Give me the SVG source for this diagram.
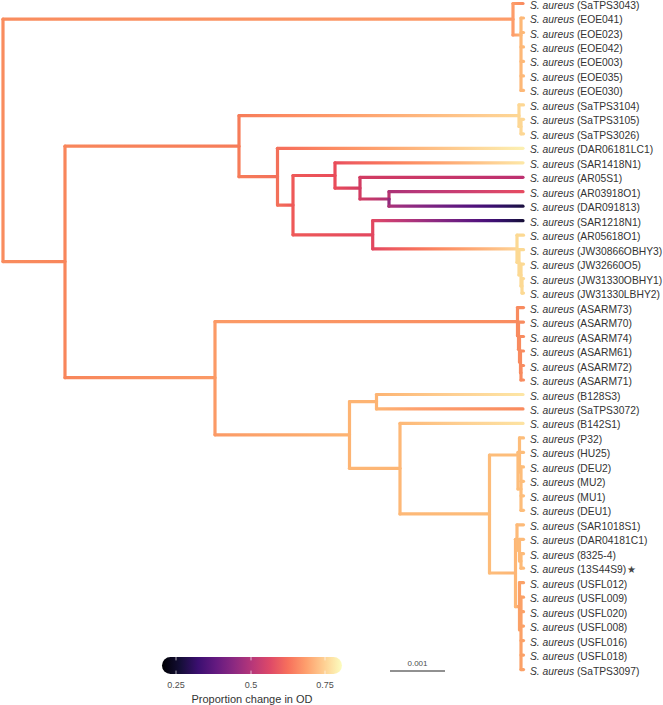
<svg xmlns="http://www.w3.org/2000/svg" width="663" height="705" viewBox="0 0 663 705">
<style>
.e{fill:none;stroke-width:3.2;stroke-linecap:round}
.lab{font-family:"Liberation Sans",Arial,sans-serif;font-size:10.3px;fill:#333}
.it{font-style:italic}
.tk{font-family:"Liberation Sans",Arial,sans-serif;font-size:9px;fill:#4d4d4d;text-anchor:middle}
.ttl{font-family:"Liberation Sans",Arial,sans-serif;font-size:11px;fill:#333;text-anchor:middle}
.sc{font-family:"Liberation Sans",Arial,sans-serif;font-size:8px;fill:#4d4d4d;text-anchor:middle}
</style>
<defs>
<linearGradient id="g_ra" gradientUnits="userSpaceOnUse" x1="3" y1="0" x2="513" y2="0"><stop offset="0" stop-color="#F98C5E"/><stop offset="1" stop-color="#FD9C69"/></linearGradient>
<linearGradient id="g_a3043" gradientUnits="userSpaceOnUse" x1="513" y1="0" x2="523" y2="0"><stop offset="0" stop-color="#FD9C69"/><stop offset="1" stop-color="#F98A5E"/></linearGradient>
<linearGradient id="g_aeoe" gradientUnits="userSpaceOnUse" x1="513" y1="0" x2="521" y2="0"><stop offset="0" stop-color="#FD9C69"/><stop offset="1" stop-color="#FDB575"/></linearGradient>
<linearGradient id="g_rb" gradientUnits="userSpaceOnUse" x1="3" y1="0" x2="65" y2="0"><stop offset="0" stop-color="#F98C5E"/><stop offset="1" stop-color="#F8865B"/></linearGradient>
<linearGradient id="g_bc" gradientUnits="userSpaceOnUse" x1="65" y1="0" x2="239" y2="0"><stop offset="0" stop-color="#F8865B"/><stop offset="1" stop-color="#F67C59"/></linearGradient>
<linearGradient id="g_cs" gradientUnits="userSpaceOnUse" x1="239" y1="0" x2="519" y2="0"><stop offset="0" stop-color="#F67C59"/><stop offset=".15" stop-color="#FC8961"/><stop offset=".4" stop-color="#FE9F6D"/><stop offset=".65" stop-color="#FEB77E"/><stop offset=".9" stop-color="#FECF92"/><stop offset="1" stop-color="#FDD794"/></linearGradient>
<linearGradient id="g_cd" gradientUnits="userSpaceOnUse" x1="239" y1="0" x2="277.5" y2="0"><stop offset="0" stop-color="#F67C59"/><stop offset="1" stop-color="#F3705A"/></linearGradient>
<linearGradient id="g_dl" gradientUnits="userSpaceOnUse" x1="277.5" y1="0" x2="523" y2="0"><stop offset="0" stop-color="#F3705A"/><stop offset=".036" stop-color="#F7705C"/><stop offset=".214" stop-color="#FC8961"/><stop offset=".393" stop-color="#FE9F6D"/><stop offset=".571" stop-color="#FEB77E"/><stop offset=".75" stop-color="#FECF92"/><stop offset=".929" stop-color="#FDE7A9"/><stop offset="1" stop-color="#FCF0B2"/></linearGradient>
<linearGradient id="g_de" gradientUnits="userSpaceOnUse" x1="277.5" y1="0" x2="293" y2="0"><stop offset="0" stop-color="#F3705A"/><stop offset="1" stop-color="#EE5958"/></linearGradient>
<linearGradient id="g_ef" gradientUnits="userSpaceOnUse" x1="293" y1="0" x2="335" y2="0"><stop offset="0" stop-color="#EE5958"/><stop offset="1" stop-color="#E94C5A"/></linearGradient>
<linearGradient id="g_fl" gradientUnits="userSpaceOnUse" x1="335" y1="0" x2="523" y2="0"><stop offset="0" stop-color="#E94C5A"/><stop offset=".0625" stop-color="#ED5A5F"/><stop offset=".219" stop-color="#F7705C"/><stop offset=".375" stop-color="#FC8961"/><stop offset=".53" stop-color="#FE9F6D"/><stop offset=".69" stop-color="#FEB77E"/><stop offset=".84" stop-color="#FECF92"/><stop offset="1" stop-color="#FDE7A6"/></linearGradient>
<linearGradient id="g_fg2" gradientUnits="userSpaceOnUse" x1="335" y1="0" x2="360" y2="0"><stop offset="0" stop-color="#E94C5A"/><stop offset="1" stop-color="#D23C62"/></linearGradient>
<linearGradient id="g_g2l" gradientUnits="userSpaceOnUse" x1="360" y1="0" x2="523" y2="0"><stop offset="0" stop-color="#D23C62"/><stop offset="1" stop-color="#BD3070"/></linearGradient>
<linearGradient id="g_g2j" gradientUnits="userSpaceOnUse" x1="360" y1="0" x2="389" y2="0"><stop offset="0" stop-color="#D23C62"/><stop offset="1" stop-color="#AC3276"/></linearGradient>
<linearGradient id="g_jl1" gradientUnits="userSpaceOnUse" x1="389" y1="0" x2="523" y2="0"><stop offset="0" stop-color="#AC3276"/><stop offset=".2" stop-color="#B73779"/><stop offset=".53" stop-color="#CA3E72"/><stop offset=".87" stop-color="#DE4968"/><stop offset="1" stop-color="#E64A60"/></linearGradient>
<linearGradient id="g_jl2" gradientUnits="userSpaceOnUse" x1="389" y1="0" x2="523" y2="0"><stop offset="0" stop-color="#AC3276"/><stop offset=".057" stop-color="#A1307E"/><stop offset=".2" stop-color="#8C2981"/><stop offset=".343" stop-color="#782281"/><stop offset=".486" stop-color="#641A80"/><stop offset=".629" stop-color="#51127C"/><stop offset=".771" stop-color="#3B0F70"/><stop offset=".914" stop-color="#251255"/><stop offset="1" stop-color="#1B1040"/></linearGradient>
<linearGradient id="g_eg" gradientUnits="userSpaceOnUse" x1="293" y1="0" x2="372.7" y2="0"><stop offset="0" stop-color="#EE5958"/><stop offset="1" stop-color="#E2475F"/></linearGradient>
<linearGradient id="g_gl1" gradientUnits="userSpaceOnUse" x1="372.7" y1="0" x2="523" y2="0"><stop offset="0" stop-color="#E2475F"/><stop offset=".02" stop-color="#DE4968"/><stop offset=".12" stop-color="#CA3E72"/><stop offset=".22" stop-color="#B73779"/><stop offset=".32" stop-color="#A1307E"/><stop offset=".42" stop-color="#8C2981"/><stop offset=".52" stop-color="#782281"/><stop offset=".62" stop-color="#641A80"/><stop offset=".72" stop-color="#51127C"/><stop offset=".82" stop-color="#3B0F70"/><stop offset=".92" stop-color="#251255"/><stop offset="1" stop-color="#170E38"/></linearGradient>
<linearGradient id="g_gjw" gradientUnits="userSpaceOnUse" x1="372.7" y1="0" x2="517" y2="0"><stop offset="0" stop-color="#E2475F"/><stop offset=".133" stop-color="#ED5A5F"/><stop offset=".3" stop-color="#F7705C"/><stop offset=".467" stop-color="#FC8961"/><stop offset=".633" stop-color="#FE9F6D"/><stop offset=".8" stop-color="#FEB77E"/><stop offset=".967" stop-color="#FECF92"/><stop offset="1" stop-color="#FDD494"/></linearGradient>
<linearGradient id="g_bh" gradientUnits="userSpaceOnUse" x1="65" y1="0" x2="215" y2="0"><stop offset="0" stop-color="#F8865B"/><stop offset="1" stop-color="#FB9A66"/></linearGradient>
<linearGradient id="g_has" gradientUnits="userSpaceOnUse" x1="215" y1="0" x2="517.5" y2="0"><stop offset="0" stop-color="#FB9A66"/><stop offset="1" stop-color="#F98C60"/></linearGradient>
<linearGradient id="g_hi" gradientUnits="userSpaceOnUse" x1="215" y1="0" x2="349.5" y2="0"><stop offset="0" stop-color="#FB9A66"/><stop offset="1" stop-color="#FDB473"/></linearGradient>
<linearGradient id="g_kl1" gradientUnits="userSpaceOnUse" x1="376.5" y1="0" x2="523" y2="0"><stop offset="0" stop-color="#FDB473"/><stop offset=".52" stop-color="#FECF92"/><stop offset="1" stop-color="#FDE6A5"/></linearGradient>
<linearGradient id="g_kl2" gradientUnits="userSpaceOnUse" x1="376.5" y1="0" x2="523" y2="0"><stop offset="0" stop-color="#FDB473"/><stop offset=".3" stop-color="#FE9F6D"/><stop offset="1" stop-color="#F98B5E"/></linearGradient>
<linearGradient id="g_ml" gradientUnits="userSpaceOnUse" x1="400" y1="0" x2="523" y2="0"><stop offset="0" stop-color="#FDB877"/><stop offset=".5" stop-color="#FECF92"/><stop offset="1" stop-color="#FDE3A2"/></linearGradient>
<linearGradient id="g_mn" gradientUnits="userSpaceOnUse" x1="400" y1="0" x2="489.5" y2="0"><stop offset="0" stop-color="#FDB877"/><stop offset="1" stop-color="#FDBC7A"/></linearGradient>
<linearGradient id="g_no" gradientUnits="userSpaceOnUse" x1="489.5" y1="0" x2="515.5" y2="0"><stop offset="0" stop-color="#FDBC7A"/><stop offset="1" stop-color="#FDB675"/></linearGradient>
<linearGradient id="g_ou" gradientUnits="userSpaceOnUse" x1="515.5" y1="0" x2="519.5" y2="0"><stop offset="0" stop-color="#FDB675"/><stop offset="1" stop-color="#FBA468"/></linearGradient>
<linearGradient id="g_bar" x1="0" y1="0" x2="1" y2="0"><stop offset="0" stop-color="#000004"/><stop offset=".1" stop-color="#140E36"/><stop offset=".2" stop-color="#3B0F70"/><stop offset=".3" stop-color="#641A80"/><stop offset=".4" stop-color="#8C2981"/><stop offset=".5" stop-color="#B73779"/><stop offset=".6" stop-color="#DE4968"/><stop offset=".7" stop-color="#F7705C"/><stop offset=".8" stop-color="#FE9F6D"/><stop offset=".9" stop-color="#FECF92"/><stop offset="1" stop-color="#FCFDBF"/></linearGradient>
</defs>
<rect width="663" height="705" fill="#fff"/>
<g id="branches">
<line class="e" x1="3" y1="19.2" x2="3" y2="261.6" stroke="#F98C5E"/>
<line class="e" x1="3" y1="19.2" x2="513" y2="19.2" stroke="url(#g_ra)"/>
<line class="e" x1="513" y1="3.5" x2="513" y2="35" stroke="#FD9C69"/>
<line class="e" x1="513" y1="3.5" x2="523" y2="3.5" stroke="url(#g_a3043)"/>
<line class="e" x1="513" y1="35" x2="521" y2="35" stroke="url(#g_aeoe)"/>
<g stroke="#FDB877">
<line class="e" x1="521" y1="18" x2="521" y2="90.4"/>
<line class="e" x1="521" y1="18" x2="523.5" y2="18"/>
<line class="e" x1="521" y1="32.5" x2="523.5" y2="32.5"/>
<line class="e" x1="521" y1="46.9" x2="523.5" y2="46.9"/>
<line class="e" x1="521" y1="61.4" x2="523.5" y2="61.4"/>
<line class="e" x1="521" y1="75.9" x2="523.5" y2="75.9"/>
<line class="e" x1="521" y1="90.4" x2="523.5" y2="90.4"/>
</g>
<line class="e" x1="3" y1="261.6" x2="65" y2="261.6" stroke="url(#g_rb)"/>
<line class="e" x1="65" y1="146.2" x2="65" y2="377.7" stroke="#F8865B"/>
<line class="e" x1="65" y1="146.2" x2="239" y2="146.2" stroke="url(#g_bc)"/>
<line class="e" x1="239" y1="115.7" x2="239" y2="176.7" stroke="#F67C59"/>
<line class="e" x1="239" y1="115.7" x2="519" y2="115.7" stroke="url(#g_cs)"/>
<g stroke="#FDD794">
<line class="e" x1="519" y1="104.9" x2="519" y2="126.5"/>
<line class="e" x1="519" y1="126.5" x2="521" y2="126.5"/>
<line class="e" x1="521" y1="119.3" x2="521" y2="133.8"/>
<line class="e" x1="519" y1="104.9" x2="523.5" y2="104.9"/>
<line class="e" x1="521" y1="119.3" x2="523.5" y2="119.3"/>
<line class="e" x1="521" y1="133.8" x2="523.5" y2="133.8"/>
</g>
<line class="e" x1="239" y1="176.7" x2="277.5" y2="176.7" stroke="url(#g_cd)"/>
<line class="e" x1="277.5" y1="148.3" x2="277.5" y2="205.1" stroke="#F3705A"/>
<line class="e" x1="277.5" y1="148.3" x2="523" y2="148.3" stroke="url(#g_dl)"/>
<line class="e" x1="277.5" y1="205.1" x2="293" y2="205.1" stroke="url(#g_de)"/>
<line class="e" x1="293" y1="175.5" x2="293" y2="234.8" stroke="#EE5958"/>
<line class="e" x1="293" y1="175.5" x2="335" y2="175.5" stroke="url(#g_ef)"/>
<line class="e" x1="335" y1="162.8" x2="335" y2="188.1" stroke="#E94C5A"/>
<line class="e" x1="335" y1="162.8" x2="523" y2="162.8" stroke="url(#g_fl)"/>
<line class="e" x1="335" y1="188.1" x2="360" y2="188.1" stroke="url(#g_fg2)"/>
<line class="e" x1="360" y1="177.3" x2="360" y2="199" stroke="#D23C62"/>
<line class="e" x1="360" y1="177.3" x2="523" y2="177.3" stroke="url(#g_g2l)"/>
<line class="e" x1="360" y1="199" x2="389" y2="199" stroke="url(#g_g2j)"/>
<line class="e" x1="389" y1="191.7" x2="389" y2="199" stroke="#B9356E"/>
<line class="e" x1="389" y1="199" x2="389" y2="206.2" stroke="#8F2A7C"/>
<line class="e" x1="389" y1="191.7" x2="523" y2="191.7" stroke="url(#g_jl1)"/>
<line class="e" x1="389" y1="206.2" x2="523" y2="206.2" stroke="url(#g_jl2)"/>
<line class="e" x1="293" y1="234.8" x2="372.7" y2="234.8" stroke="url(#g_eg)"/>
<line class="e" x1="372.7" y1="220.7" x2="372.7" y2="248.8" stroke="#E2475F"/>
<line class="e" x1="372.7" y1="220.7" x2="523" y2="220.7" stroke="url(#g_gl1)"/>
<line class="e" x1="372.7" y1="248.8" x2="517" y2="248.8" stroke="url(#g_gjw)"/>
<g stroke="#FCD993">
<line class="e" x1="517" y1="235.2" x2="517" y2="262.3"/>
<line class="e" x1="517" y1="262.3" x2="519" y2="262.3"/>
<line class="e" x1="519" y1="249.7" x2="519" y2="275"/>
<line class="e" x1="519" y1="275" x2="521" y2="275"/>
<line class="e" x1="521" y1="264.1" x2="521" y2="285.9"/>
<line class="e" x1="521" y1="285.9" x2="522" y2="285.9"/>
<line class="e" x1="522" y1="278.6" x2="522" y2="293.1"/>
<line class="e" x1="517" y1="235.2" x2="523.5" y2="235.2"/>
<line class="e" x1="519" y1="249.7" x2="523.5" y2="249.7"/>
<line class="e" x1="521" y1="264.1" x2="523.5" y2="264.1"/>
<line class="e" x1="522" y1="278.6" x2="523.5" y2="278.6"/>
<line class="e" x1="522" y1="293.1" x2="523.5" y2="293.1"/>
</g>
<line class="e" x1="65" y1="377.7" x2="215" y2="377.7" stroke="url(#g_bh)"/>
<line class="e" x1="215" y1="321.7" x2="215" y2="434.8" stroke="#FB9A66"/>
<line class="e" x1="215" y1="321.7" x2="517.5" y2="321.7" stroke="url(#g_has)"/>
<g stroke="#F88B5F">
<line class="e" x1="517.5" y1="307.6" x2="517.5" y2="335.7"/>
<line class="e" x1="517.5" y1="335.7" x2="518.5" y2="335.7"/>
<line class="e" x1="518.5" y1="322.1" x2="518.5" y2="349.2"/>
<line class="e" x1="518.5" y1="349.2" x2="519.5" y2="349.2"/>
<line class="e" x1="519.5" y1="336.5" x2="519.5" y2="361.9"/>
<line class="e" x1="519.5" y1="361.9" x2="520.5" y2="361.9"/>
<line class="e" x1="520.5" y1="351" x2="520.5" y2="372.8"/>
<line class="e" x1="520.5" y1="372.8" x2="521" y2="372.8"/>
<line class="e" x1="521" y1="365.5" x2="521" y2="380"/>
<line class="e" x1="517.5" y1="307.6" x2="523.5" y2="307.6"/>
<line class="e" x1="518.5" y1="322.1" x2="523.5" y2="322.1"/>
<line class="e" x1="519.5" y1="336.5" x2="523.5" y2="336.5"/>
<line class="e" x1="520.5" y1="351" x2="523.5" y2="351"/>
<line class="e" x1="521" y1="365.5" x2="523.5" y2="365.5"/>
<line class="e" x1="521" y1="380" x2="523.5" y2="380"/>
</g>
<line class="e" x1="215" y1="434.8" x2="349.5" y2="434.8" stroke="url(#g_hi)"/>
<line class="e" x1="349.5" y1="401.7" x2="349.5" y2="468.3" stroke="#FDB473"/>
<line class="e" x1="349.5" y1="401.7" x2="376.5" y2="401.7" stroke="#FDB473"/>
<line class="e" x1="376.5" y1="394.5" x2="376.5" y2="408.9" stroke="#FDB473"/>
<line class="e" x1="376.5" y1="394.5" x2="523" y2="394.5" stroke="url(#g_kl1)"/>
<line class="e" x1="376.5" y1="408.9" x2="523" y2="408.9" stroke="url(#g_kl2)"/>
<line class="e" x1="349.5" y1="468.3" x2="400" y2="468.3" stroke="#FDB675"/>
<line class="e" x1="400" y1="423.4" x2="400" y2="513.9" stroke="#FDB877"/>
<line class="e" x1="400" y1="423.4" x2="523" y2="423.4" stroke="url(#g_ml)"/>
<line class="e" x1="400" y1="513.9" x2="489.5" y2="513.9" stroke="url(#g_mn)"/>
<line class="e" x1="489.5" y1="455" x2="489.5" y2="573" stroke="#FDBC7A"/>
<line class="e" x1="489.5" y1="455" x2="519.5" y2="455" stroke="#FDBD7A"/>
<g stroke="#FDBD7A">
<line class="e" x1="519.5" y1="437.9" x2="519.5" y2="472.1"/>
<line class="e" x1="518" y1="452.4" x2="518" y2="489"/>
<line class="e" x1="518" y1="489" x2="521" y2="489"/>
<line class="e" x1="521" y1="466.9" x2="521" y2="510.3"/>
<line class="e" x1="519.5" y1="437.9" x2="523.5" y2="437.9"/>
<line class="e" x1="518" y1="452.4" x2="523.5" y2="452.4"/>
<line class="e" x1="521" y1="466.9" x2="523.5" y2="466.9"/>
<line class="e" x1="521" y1="481.3" x2="523.5" y2="481.3"/>
<line class="e" x1="521" y1="495.8" x2="523.5" y2="495.8"/>
<line class="e" x1="521" y1="510.3" x2="523.5" y2="510.3"/>
</g>
<line class="e" x1="489.5" y1="573" x2="515.5" y2="573" stroke="url(#g_no)"/>
<line class="e" x1="515.5" y1="539.3" x2="515.5" y2="606.7" stroke="#FDB675"/>
<g stroke="#FDBA78">
<line class="e" x1="515.5" y1="539.3" x2="517" y2="539.3"/>
<line class="e" x1="517" y1="524.8" x2="517" y2="550.1"/>
<line class="e" x1="517" y1="550.1" x2="519.5" y2="550.1"/>
<line class="e" x1="519.5" y1="539.3" x2="519.5" y2="561"/>
<line class="e" x1="519.5" y1="561" x2="521" y2="561"/>
<line class="e" x1="521" y1="553.7" x2="521" y2="568.2"/>
<line class="e" x1="517" y1="524.8" x2="523.5" y2="524.8"/>
<line class="e" x1="519.5" y1="539.3" x2="523.5" y2="539.3"/>
<line class="e" x1="521" y1="553.7" x2="523.5" y2="553.7"/>
<line class="e" x1="521" y1="568.2" x2="523.5" y2="568.2"/>
</g>
<line class="e" x1="515.5" y1="606.7" x2="519.5" y2="606.7" stroke="url(#g_ou)"/>
<g stroke="#FBA167">
<line class="e" x1="519.5" y1="582.7" x2="519.5" y2="630"/>
<line class="e" x1="521" y1="597.2" x2="521" y2="669.6"/>
<line class="e" x1="519.5" y1="582.7" x2="523.5" y2="582.7"/>
<line class="e" x1="521" y1="597.2" x2="523.5" y2="597.2"/>
<line class="e" x1="521" y1="611.7" x2="523.5" y2="611.7"/>
<line class="e" x1="521" y1="626.1" x2="523.5" y2="626.1"/>
<line class="e" x1="521" y1="640.6" x2="523.5" y2="640.6"/>
<line class="e" x1="521" y1="655.1" x2="523.5" y2="655.1"/>
<line class="e" x1="521" y1="669.6" x2="523.5" y2="669.6"/>
</g>
</g>
<g id="leaves" class="lab" transform="translate(0,0.5)">
<g id="n0"><text x="530" y="8.5"><tspan class="it">S. aureus</tspan> (SaTPS3043)</text></g>
<g id="n1"><text x="530" y="22.5"><tspan class="it">S. aureus</tspan> (EOE041)</text></g>
<g id="n2"><text x="530" y="37"><tspan class="it">S. aureus</tspan> (EOE023)</text></g>
<g id="n3"><text x="530" y="51.4"><tspan class="it">S. aureus</tspan> (EOE042)</text></g>
<g id="n4"><text x="530" y="65.9"><tspan class="it">S. aureus</tspan> (EOE003)</text></g>
<g id="n5"><text x="530" y="80.4"><tspan class="it">S. aureus</tspan> (EOE035)</text></g>
<g id="n6"><text x="530" y="94.9"><tspan class="it">S. aureus</tspan> (EOE030)</text></g>
<g id="n7"><text x="530" y="109.4"><tspan class="it">S. aureus</tspan> (SaTPS3104)</text></g>
<g id="n8"><text x="530" y="123.8"><tspan class="it">S. aureus</tspan> (SaTPS3105)</text></g>
<g id="n9"><text x="530" y="138.3"><tspan class="it">S. aureus</tspan> (SaTPS3026)</text></g>
<g id="n10"><text x="530" y="152.8"><tspan class="it">S. aureus</tspan> (DAR06181LC1)</text></g>
<g id="n11"><text x="530" y="167.3"><tspan class="it">S. aureus</tspan> (SAR1418N1)</text></g>
<g id="n12"><text x="530" y="181.8"><tspan class="it">S. aureus</tspan> (AR05S1)</text></g>
<g id="n13"><text x="530" y="196.2"><tspan class="it">S. aureus</tspan> (AR03918O1)</text></g>
<g id="n14"><text x="530" y="210.7"><tspan class="it">S. aureus</tspan> (DAR091813)</text></g>
<g id="n15"><text x="530" y="225.2"><tspan class="it">S. aureus</tspan> (SAR1218N1)</text></g>
<g id="n16"><text x="530" y="239.7"><tspan class="it">S. aureus</tspan> (AR05618O1)</text></g>
<g id="n17"><text x="530" y="254.2"><tspan class="it">S. aureus</tspan> (JW30866OBHY3)</text></g>
<g id="n18"><text x="530" y="268.6"><tspan class="it">S. aureus</tspan> (JW32660O5)</text></g>
<g id="n19"><text x="530" y="283.1"><tspan class="it">S. aureus</tspan> (JW31330OBHY1)</text></g>
<g id="n20"><text x="530" y="297.6"><tspan class="it">S. aureus</tspan> (JW31330LBHY2)</text></g>
<g id="n21"><text x="530" y="312.1"><tspan class="it">S. aureus</tspan> (ASARM73)</text></g>
<g id="n22"><text x="530" y="326.6"><tspan class="it">S. aureus</tspan> (ASARM70)</text></g>
<g id="n23"><text x="530" y="341"><tspan class="it">S. aureus</tspan> (ASARM74)</text></g>
<g id="n24"><text x="530" y="355.5"><tspan class="it">S. aureus</tspan> (ASARM61)</text></g>
<g id="n25"><text x="530" y="370"><tspan class="it">S. aureus</tspan> (ASARM72)</text></g>
<g id="n26"><text x="530" y="384.5"><tspan class="it">S. aureus</tspan> (ASARM71)</text></g>
<g id="n27"><text x="530" y="399"><tspan class="it">S. aureus</tspan> (B128S3)</text></g>
<g id="n28"><text x="530" y="413.4"><tspan class="it">S. aureus</tspan> (SaTPS3072)</text></g>
<g id="n29"><text x="530" y="427.9"><tspan class="it">S. aureus</tspan> (B142S1)</text></g>
<g id="n30"><text x="530" y="442.4"><tspan class="it">S. aureus</tspan> (P32)</text></g>
<g id="n31"><text x="530" y="456.9"><tspan class="it">S. aureus</tspan> (HU25)</text></g>
<g id="n32"><text x="530" y="471.4"><tspan class="it">S. aureus</tspan> (DEU2)</text></g>
<g id="n33"><text x="530" y="485.8"><tspan class="it">S. aureus</tspan> (MU2)</text></g>
<g id="n34"><text x="530" y="500.3"><tspan class="it">S. aureus</tspan> (MU1)</text></g>
<g id="n35"><text x="530" y="514.8"><tspan class="it">S. aureus</tspan> (DEU1)</text></g>
<g id="n36"><text x="530" y="529.3"><tspan class="it">S. aureus</tspan> (SAR1018S1)</text></g>
<g id="n37"><text x="530" y="543.8"><tspan class="it">S. aureus</tspan> (DAR04181C1)</text></g>
<g id="n38"><text x="530" y="558.2"><tspan class="it">S. aureus</tspan> (8325-4)</text></g>
<g id="n39"><text x="530" y="572.7"><tspan class="it">S. aureus</tspan> (13S44S9)</text><text x="627" y="572.7" style="font-family:'DejaVu Sans',sans-serif;font-size:10px;fill:#444">★</text></g>
<g id="n40"><text x="530" y="587.2"><tspan class="it">S. aureus</tspan> (USFL012)</text></g>
<g id="n41"><text x="530" y="601.7"><tspan class="it">S. aureus</tspan> (USFL009)</text></g>
<g id="n42"><text x="530" y="616.2"><tspan class="it">S. aureus</tspan> (USFL020)</text></g>
<g id="n43"><text x="530" y="630.6"><tspan class="it">S. aureus</tspan> (USFL008)</text></g>
<g id="n44"><text x="530" y="645.1"><tspan class="it">S. aureus</tspan> (USFL016)</text></g>
<g id="n45"><text x="530" y="659.6"><tspan class="it">S. aureus</tspan> (USFL018)</text></g>
<g id="n46"><text x="530" y="674.1"><tspan class="it">S. aureus</tspan> (SaTPS3097)</text></g>
</g>
<g id="legend">
<rect x="162" y="657" width="180" height="17" rx="8.5" fill="url(#g_bar)"/>
<g stroke="#fff" stroke-width="0.8" opacity="0.8">
<line x1="176" y1="657" x2="176" y2="660.4"/><line x1="176" y1="670.6" x2="176" y2="674"/>
<line x1="251" y1="657" x2="251" y2="660.4"/><line x1="251" y1="670.6" x2="251" y2="674"/>
<line x1="325" y1="657" x2="325" y2="660.4"/><line x1="325" y1="670.6" x2="325" y2="674"/>
</g>
<text class="tk" x="176" y="687.5">0.25</text>
<text class="tk" x="251" y="687.5">0.5</text>
<text class="tk" x="325" y="687.5">0.75</text>
<text class="ttl" x="252" y="703">Proportion change in OD</text>
</g>
<g id="scalebar">
<line x1="390" y1="671" x2="445" y2="671" stroke="#222" stroke-width="1"/>
<text class="sc" x="417.5" y="666">0.001</text>
</g>
</svg>
